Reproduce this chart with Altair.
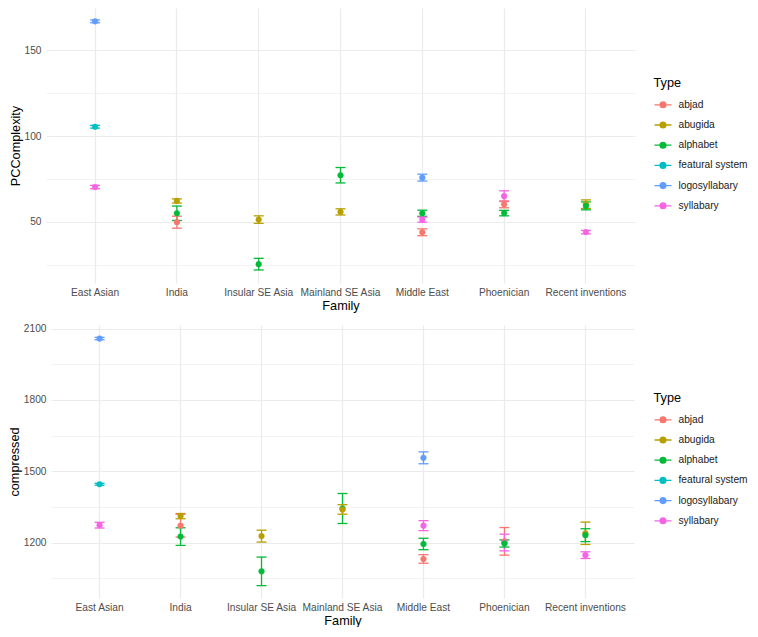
import altair as alt
import pandas as pd

families = ["East Asian", "India", "Insular SE Asia", "Mainland SE Asia",
            "Middle East", "Phoenician", "Recent inventions"]
types_order = ["abjad", "abugida", "alphabet", "featural system",
               "logosyllabary", "syllabary"]
type_colors = ["#F8766D", "#B79F00", "#00BA38", "#00BFC4", "#619CFF", "#F564E3"]

# ---- Panel 1: PCComplexity ----
pc_family = ["East Asian", "East Asian", "East Asian",
             "India", "India", "India",
             "Insular SE Asia", "Insular SE Asia",
             "Mainland SE Asia", "Mainland SE Asia",
             "Middle East", "Middle East", "Middle East", "Middle East",
             "Phoenician", "Phoenician", "Phoenician",
             "Recent inventions", "Recent inventions", "Recent inventions"]
pc_type = ["logosyllabary", "featural system", "syllabary",
           "abugida", "alphabet", "abjad",
           "abugida", "alphabet",
           "alphabet", "abugida",
           "logosyllabary", "alphabet", "syllabary", "abjad",
           "syllabary", "abjad", "alphabet",
           "abugida", "alphabet", "syllabary"]
pc_mean = [167.0, 105.5, 70.3,
           62.2, 55.0, 49.8,
           51.3, 25.3,
           77.2, 55.8,
           75.8, 55.0, 51.3, 43.9,
           65.0, 60.2, 55.1,
           60.3, 59.3, 44.0]
pc_err = [0.8, 0.8, 1.0,
          1.2, 4.2, 3.5,
          2.2, 3.4,
          4.5, 1.8,
          2.0, 1.8, 1.5, 2.0,
          3.1, 2.0, 1.6,
          2.5, 2.3, 1.0]
pc_ticks = [25, 50, 75, 100, 125, 150]

# ---- Panel 2: compressed ----
cp_family = pc_family
cp_type = ["logosyllabary", "featural system", "syllabary",
           "abugida", "abjad", "alphabet",
           "abugida", "alphabet",
           "alphabet", "abugida",
           "logosyllabary", "syllabary", "alphabet", "abjad",
           "abjad", "syllabary", "alphabet",
           "abugida", "alphabet", "syllabary"]
cp_mean = [2058, 1446, 1274,
           1312, 1272, 1226,
           1228, 1080,
           1344, 1340,
           1557, 1272, 1195, 1132,
           1206, 1201, 1197,
           1240, 1232, 1148]
cp_err = [5, 4, 12,
          11, 48, 37,
          25, 60,
          63, 20,
          25, 21, 24, 18,
          58, 35, 15,
          47, 27, 14]
cp_ticks = [1050, 1200, 1350, 1500, 1650, 1800, 1950, 2100]


def make_df(fam, typ, mean, err):
    df = pd.DataFrame({"Family": fam, "Type": typ, "mean": mean, "err": err})
    df["lo"] = df["mean"] - df["err"]
    df["hi"] = df["mean"] + df["err"]
    return df


FONT = "Liberation Sans"
SYMBOL = ("M-1,0L1,0M-0.34,0A0.34,0.34,0,1,1,0.34,0"
          "A0.34,0.34,0,1,1,-0.34,0Z")


def panel(df, ytitle, domain, ticks, major, w, h, xrange, yoffset, lx, ly):
    xscale = alt.Scale(domain=families, paddingInner=0, paddingOuter=0.1)
    if xrange is not None:
        xscale = alt.Scale(domain=families, paddingInner=0, paddingOuter=0.1,
                           range=xrange)
    xenc = alt.X("Family:N", sort=families, scale=xscale,
                 axis=alt.Axis(title="Family", bandPosition=0.5, grid=True,
                               gridColor="#EBEBEB", gridWidth=1.2,
                               domain=False, ticks=False, labelAngle=0,
                               labelFont=FONT, labelFontSize=10.2,
                               labelColor="#4D4D4D", labelPadding=4,
                               titleFont=FONT, titleFontSize=12.7,
                               titleFontWeight="normal", titleColor="#000000",
                               titlePadding=2))
    yscale = alt.Scale(domain=domain, zero=False, nice=False)
    yaxis = alt.Axis(title=ytitle, values=ticks, format="d", offset=yoffset,
                     labelExpr=f"datum.value % {major} === 0 ? datum.label : ''",
                     grid=True, gridColor="#EBEBEB",
                     gridWidth={"condition": {"test": f"datum.value % {major} === 0",
                                              "value": 1.2}, "value": 0.6},
                     domain=False, ticks=False,
                     labelFont=FONT, labelFontSize=10.2, labelColor="#4D4D4D",
                     labelPadding=5,
                     titleFont=FONT, titleFontSize=12.7, titleFontWeight="normal",
                     titleColor="#000000", titlePadding=2)
    leg = alt.Legend(title="Type", orient="none", legendX=lx, legendY=ly,
                     symbolType=SYMBOL, symbolSize=289, symbolStrokeWidth=1.3,
                     titleFont=FONT, titleFontSize=12.7, titleFontWeight="normal",
                     titleColor="#000000", titlePadding=5.6,
                     labelFont=FONT, labelFontSize=10.2, labelColor="#1A1A1A",
                     labelOffset=6, rowPadding=5.2, padding=0)
    cscale = alt.Scale(domain=types_order, range=type_colors)
    fill = alt.Fill("Type:N", scale=cscale, legend=leg)
    stroke = alt.Stroke("Type:N", scale=cscale, legend=leg)

    base = alt.Chart(df)
    bars = base.mark_rule(strokeWidth=1.3).encode(
        x=xenc, y=alt.Y("lo:Q", scale=yscale, axis=yaxis), y2="hi:Q", stroke=stroke)
    cap_lo = base.mark_tick(size=10, thickness=1.3, opacity=1, filled=True).encode(
        x=xenc, y=alt.Y("lo:Q", scale=yscale, axis=yaxis), fill=fill)
    cap_hi = base.mark_tick(size=10, thickness=1.3, opacity=1, filled=True).encode(
        x=xenc, y=alt.Y("hi:Q", scale=yscale, axis=yaxis), fill=fill)
    pts = base.mark_circle(size=32, opacity=1, strokeWidth=0.5).encode(
        x=xenc, y=alt.Y("mean:Q", scale=yscale, axis=yaxis), fill=fill, stroke=stroke)
    return alt.layer(bars, cap_lo, cap_hi, pts).properties(width=w, height=h)


top = panel(make_df(pc_family, pc_type, pc_mean, pc_err), "PCComplexity",
            [14.3, 174.8], pc_ticks, 50, 584, 275, [-5, 584], 5, 602.5, 69)
bottom = panel(make_df(cp_family, cp_type, cp_mean, cp_err), "compressed",
               [968, 2115], cp_ticks, 300, 583, 273, None, 0, 602.5, 67)

chart = alt.vconcat(top, bottom, spacing=11).resolve_scale(
    fill="independent", stroke="independent").resolve_legend(
    fill="independent", stroke="independent").properties(
    padding=0).configure_view(stroke=None)

chart.save("out.html", embed_options={"renderer": "svg", "actions": False})
